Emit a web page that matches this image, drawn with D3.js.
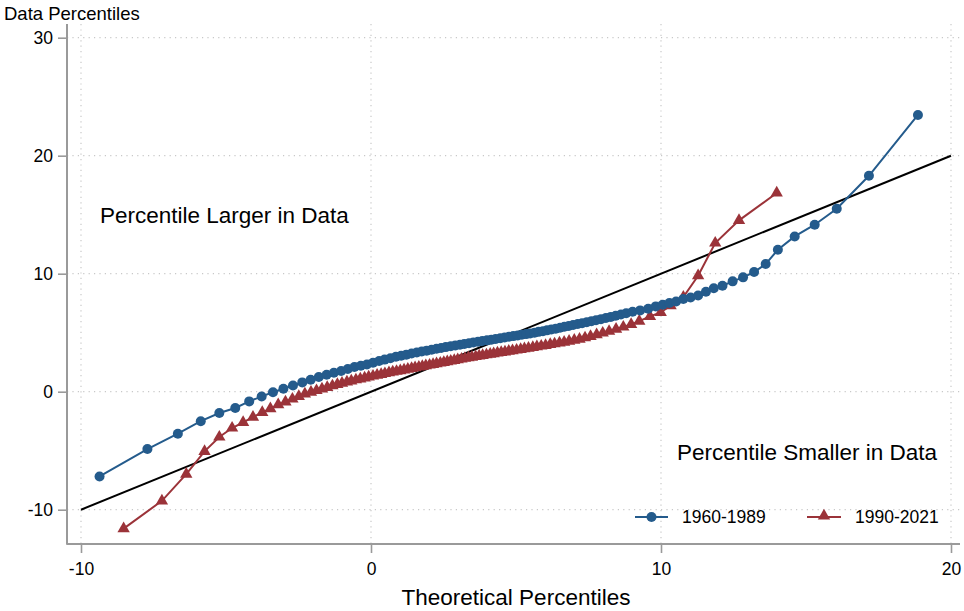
<!DOCTYPE html>
<html>
<head>
<meta charset="utf-8">
<script src="https://cdn.jsdelivr.net/npm/d3@7"></script>
<style>
  html, body { margin: 0; padding: 0; background: #fff; }
  svg { display: block; font-family: "Liberation Sans", Arial, Helvetica, sans-serif; }
</style>
</head>
<body>
<svg id="chart" width="964" height="611"></svg>
<script>
// ---- Data ----
const xTicks = [-10, 0, 10, 20];
const yTicks = [-10, 0, 10, 20, 30];
const seriesNames = ["1960-1989", "1990-2021"];

// 1960-1989: theoretical percentiles (x) and data percentiles (y), p1..p99
const blueX = [
  -9.36, -7.71, -6.66, -5.87, -5.23, -4.68, -4.20, -3.77, -3.38, -3.02,
  -2.69, -2.37, -2.08, -1.80, -1.53, -1.28, -1.03, -0.80, -0.57, -0.35,
  -0.14, 0.07, 0.28, 0.47, 0.67, 0.86, 1.04, 1.22, 1.40, 1.58,
  1.75, 1.92, 2.09, 2.26, 2.42, 2.58, 2.75, 2.91, 3.07, 3.22,
  3.38, 3.53, 3.69, 3.84, 4.00, 4.15, 4.30, 4.46, 4.61, 4.76,
  4.91, 5.06, 5.20, 5.35, 5.49, 5.64, 5.78, 5.93, 6.07, 6.22,
  6.37, 6.52, 6.67, 6.82, 6.97, 7.13, 7.28, 7.44, 7.60, 7.76,
  7.93, 8.10, 8.27, 8.44, 8.62, 8.80, 9.02, 9.28, 9.56, 9.82,
  10.06, 10.29, 10.52, 10.77, 11.02, 11.28, 11.55, 11.82, 12.12, 12.47,
  12.83, 13.21, 13.61, 14.03, 14.61, 15.30, 16.06, 17.17, 18.86
];
const blueY = [
  -7.18, -4.86, -3.56, -2.50, -1.81, -1.38, -0.82, -0.40, -0.05, 0.25,
  0.53, 0.79, 1.02, 1.24, 1.44, 1.61, 1.75, 1.92, 2.09, 2.20,
  2.31, 2.46, 2.60, 2.72, 2.84, 2.96, 3.05, 3.14, 3.23, 3.32,
  3.40, 3.48, 3.56, 3.64, 3.71, 3.78, 3.85, 3.92, 3.98, 4.05,
  4.11, 4.17, 4.23, 4.29, 4.35, 4.41, 4.47, 4.53, 4.59, 4.65,
  4.71, 4.77, 4.82, 4.88, 4.94, 5.00, 5.07, 5.13, 5.20, 5.27,
  5.34, 5.42, 5.50, 5.57, 5.65, 5.73, 5.80, 5.89, 5.97, 6.06,
  6.15, 6.24, 6.34, 6.44, 6.54, 6.65, 6.77, 6.89, 7.03, 7.23,
  7.37, 7.51, 7.65, 7.86, 7.99, 8.16, 8.47, 8.76, 8.98, 9.35,
  9.69, 10.14, 10.82, 12.03, 13.16, 14.15, 15.50, 18.30, 23.45
];

// 1990-2021
const redX = [
  -8.53, -7.21, -6.37, -5.74, -5.23, -4.79, -4.41, -4.07, -3.75, -3.47,
  -3.20, -2.95, -2.71, -2.49, -2.28, -2.07, -1.88, -1.69, -1.51, -1.33,
  -1.16, -1.00, -0.83, -0.68, -0.52, -0.37, -0.22, -0.08, 0.07, 0.21,
  0.35, 0.48, 0.62, 0.75, 0.88, 1.01, 1.14, 1.27, 1.40, 1.52,
  1.65, 1.77, 1.89, 2.02, 2.14, 2.26, 2.39, 2.51, 2.63, 2.75,
  2.87, 2.99, 3.12, 3.24, 3.36, 3.48, 3.61, 3.73, 3.85, 3.98,
  4.11, 4.23, 4.36, 4.49, 4.62, 4.75, 4.88, 5.02, 5.16, 5.29,
  5.43, 5.58, 5.72, 5.87, 6.02, 6.18, 6.33, 6.50, 6.66, 6.83,
  7.01, 7.19, 7.38, 7.57, 7.78, 7.99, 8.21, 8.45, 8.70, 8.97,
  9.25, 9.62, 9.99, 10.33, 10.77, 11.28, 11.87, 12.69, 13.99
];
const redY = [
  -11.60, -9.25, -6.98, -5.06, -3.84, -3.08, -2.60, -2.15, -1.75, -1.44,
  -1.10, -0.87, -0.62, -0.40, -0.19, -0.04, 0.10, 0.24, 0.37, 0.50,
  0.62, 0.72, 0.83, 0.92, 1.01, 1.09, 1.17, 1.25, 1.33, 1.40,
  1.47, 1.54, 1.61, 1.67, 1.73, 1.79, 1.85, 1.91, 1.97, 2.03,
  2.09, 2.14, 2.20, 2.26, 2.31, 2.37, 2.43, 2.48, 2.54, 2.60,
  2.65, 2.71, 2.77, 2.83, 2.89, 2.93, 2.98, 3.03, 3.08, 3.13,
  3.18, 3.23, 3.28, 3.33, 3.38, 3.43, 3.48, 3.53, 3.59, 3.64,
  3.69, 3.75, 3.81, 3.87, 3.93, 4.00, 4.06, 4.13, 4.20, 4.28,
  4.36, 4.45, 4.57, 4.69, 4.83, 4.97, 5.12, 5.30, 5.48, 5.70,
  5.98, 6.38, 6.72, 7.29, 8.02, 9.83, 12.60, 14.52, 16.84
];

// 45-degree reference line endpoints
const refLine = [[-10, -10], [20, 20]];

// ---- Chart ----
const BLUE = "#245b8c";
const RED = "#9b3339";
const AXIS = "#9a9a9a";
const GRID = "#c8c8c8";

const svg = d3.select("#chart");
const x = d3.scaleLinear().domain([-10, 20]).range([81, 951]);
const y = d3.scaleLinear().domain([-10, 30]).range([509.7, 37.7]);

const plotLeft = 67, plotBottom = 544, plotTop = 24, plotRight = 960;

// gridlines
const grid = svg.append("g");
grid.selectAll("line.gx").data(xTicks).join("line")
  .attr("x1", d => x(d)).attr("x2", d => x(d))
  .attr("y1", plotTop).attr("y2", plotBottom)
  .attr("stroke", GRID).attr("stroke-width", 1.2).attr("stroke-dasharray", "1.2,4.2");
grid.selectAll("line.gy").data(yTicks).join("line")
  .attr("x1", plotLeft).attr("x2", plotRight)
  .attr("y1", d => y(d)).attr("y2", d => y(d))
  .attr("stroke", GRID).attr("stroke-width", 1.2).attr("stroke-dasharray", "1.2,4.2");

// axes (plain hyphen minus as in the reference)
const fmt = d => String(d);
const yAxis = svg.append("g").attr("transform", `translate(${plotLeft},0)`)
  .call(d3.axisLeft(y).tickValues(yTicks).tickFormat(fmt).tickSize(9).tickPadding(5).tickSizeOuter(0));
const xAxis = svg.append("g").attr("transform", `translate(0,${plotBottom})`)
  .call(d3.axisBottom(x).tickValues(xTicks).tickFormat(fmt).tickSize(9).tickPadding(6).tickSizeOuter(0));

[yAxis, xAxis].forEach(a => {
  a.select(".domain").remove();
  a.selectAll(".tick line").attr("stroke", AXIS).attr("stroke-width", 1.6);
  a.selectAll(".tick text").attr("fill", "#000").attr("font-size", 17.5)
    .attr("font-family", "'Liberation Sans', Arial, Helvetica, sans-serif");
});
xAxis.selectAll(".tick text").attr("dy", "0.9em");
// axis lines
svg.append("line").attr("x1", plotLeft).attr("x2", plotLeft).attr("y1", plotTop).attr("y2", plotBottom + 0.8)
  .attr("stroke", AXIS).attr("stroke-width", 2);
svg.append("line").attr("x1", plotLeft).attr("x2", plotRight).attr("y1", plotBottom).attr("y2", plotBottom)
  .attr("stroke", AXIS).attr("stroke-width", 2);

// reference 45-degree line
svg.append("line")
  .attr("x1", x(refLine[0][0])).attr("y1", y(refLine[0][1]))
  .attr("x2", x(refLine[1][0])).attr("y2", y(refLine[1][1]))
  .attr("stroke", "#000").attr("stroke-width", 2);

const line = d3.line().x(d => x(d[0])).y(d => y(d[1]));
const blueData = blueX.map((v, i) => [v, blueY[i]]);
const redData = redX.map((v, i) => [v, redY[i]]);

const tri = d3.symbol().type(d3.symbolTriangle).size(66);

// red series
svg.append("path").datum(redData).attr("d", line)
  .attr("fill", "none").attr("stroke", RED).attr("stroke-width", 2);
svg.append("g").selectAll("path").data(redData).join("path")
  .attr("d", tri).attr("transform", d => `translate(${x(d[0])},${y(d[1])})`)
  .attr("fill", RED);

// blue series
svg.append("path").datum(blueData).attr("d", line)
  .attr("fill", "none").attr("stroke", BLUE).attr("stroke-width", 2);
svg.append("g").selectAll("circle").data(blueData).join("circle")
  .attr("cx", d => x(d[0])).attr("cy", d => y(d[1])).attr("r", 5)
  .attr("fill", BLUE);

// annotations
svg.append("text").attr("x", 100).attr("y", 223).attr("font-size", 22.5)
  .attr("fill", "#000").text("Percentile Larger in Data");
svg.append("text").attr("x", 937).attr("y", 460).attr("font-size", 22.5)
  .attr("text-anchor", "end").attr("fill", "#000").text("Percentile Smaller in Data");

// axis titles
svg.append("text").attr("x", 4).attr("y", 20).attr("font-size", 18.5)
  .attr("fill", "#000").text("Data Percentiles");
svg.append("text").attr("x", 516).attr("y", 605).attr("font-size", 22.5)
  .attr("text-anchor", "middle").attr("fill", "#000").text("Theoretical Percentiles");

// legend
const legY = 517;
const leg = svg.append("g");
leg.append("line").attr("x1", 635).attr("x2", 668).attr("y1", legY).attr("y2", legY)
  .attr("stroke", BLUE).attr("stroke-width", 2);
leg.append("circle").attr("cx", 651.5).attr("cy", legY).attr("r", 5).attr("fill", BLUE);
leg.append("text").attr("x", 682).attr("y", legY).attr("dy", "0.36em").attr("font-size", 17.5)
  .attr("fill", "#000").text(seriesNames[0]);
leg.append("line").attr("x1", 807).attr("x2", 841).attr("y1", legY).attr("y2", legY)
  .attr("stroke", RED).attr("stroke-width", 2);
leg.append("path").attr("d", tri).attr("transform", `translate(824,${legY - 1})`).attr("fill", RED);
leg.append("text").attr("x", 855).attr("y", legY).attr("dy", "0.36em").attr("font-size", 17.5)
  .attr("fill", "#000").text(seriesNames[1]);
</script>
</body>
</html>
